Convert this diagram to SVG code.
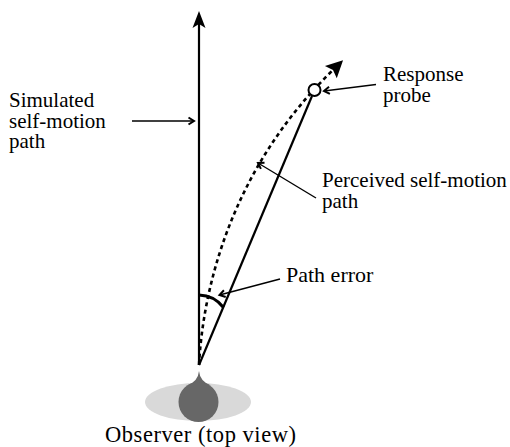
<svg xmlns="http://www.w3.org/2000/svg" width="510" height="447" viewBox="0 0 510 447">
<defs>
<style>
text{font-family:"Liberation Serif","Times New Roman",serif;font-size:21px;fill:#000}
.leader{stroke:#000;stroke-width:1.4;fill:none}
.main{stroke:#000;stroke-width:2.2;fill:none}
.dot{stroke:#000;stroke-width:2.6;fill:none;stroke-dasharray:4 3.4}
</style>
<marker id="chev" markerUnits="userSpaceOnUse" markerWidth="12" markerHeight="12" viewBox="-8 -6 12 12" refX="0" refY="0" orient="auto" overflow="visible">
<path d="M-5.5,-3.5 L0,0 L-5.5,3.5" fill="none" stroke="#000" stroke-width="2"/>
</marker>
<marker id="bigA" markerUnits="userSpaceOnUse" markerWidth="20" markerHeight="16" viewBox="-4 -8 20 16" refX="0" refY="0" orient="auto" overflow="visible">
<path d="M-4,-6.5 L13,0 L-4,6.5 L0,0 Z" fill="#000"/>
</marker>
<marker id="bigB" markerUnits="userSpaceOnUse" markerWidth="22" markerHeight="20" viewBox="-4 -10 22 20" refX="0" refY="0" orient="auto" overflow="visible">
<path d="M-3,-8.5 L14,0 L-3,8.5 L0,0 Z" fill="#000"/>
</marker>
</defs>

<g id="observer">
<ellipse cx="198" cy="402" rx="53" ry="19" fill="#d9d9d9"/>
<path d="M199,371 Q200,381 210,385 L188,385 Q198,381 199,371 Z" fill="#676767"/>
<circle cx="198.5" cy="402" r="20" fill="#676767"/>
</g>

<g id="connectors">
<line id="simulated-path" class="main" x1="199" y1="365" x2="199" y2="24" marker-end="url(#bigA)"/>
<path id="perceived-path" class="dot" d="M199,365 C203,290 230,170 333,70" marker-end="url(#bigB)"/>
<line id="response-line" class="main" x1="199" y1="365" x2="312" y2="96"/>
<path id="path-error-arc" d="M199,295 A32,32 0 0 1 223.5,307.5" fill="none" stroke="#000" stroke-width="3"/>
<line class="leader" x1="132" y1="121" x2="194" y2="121" marker-end="url(#chev)"/>
<line class="leader" x1="376" y1="84.5" x2="324" y2="91" marker-end="url(#chev)"/>
<line class="leader" x1="316" y1="198" x2="258" y2="163" marker-end="url(#chev)"/>
<line class="leader" x1="280" y1="279" x2="219.5" y2="295" marker-end="url(#chev)"/>
</g>

<g id="probe">
<circle cx="314.5" cy="90" r="6" fill="#fff" stroke="#000" stroke-width="2"/>
</g>

<g id="label-simulated">
<text x="9" y="107">Simulated</text>
<text x="9" y="128">self-motion</text>
<text x="9" y="148">path</text>
</g>
<g id="label-response">
<text x="383" y="81">Response</text>
<text x="383" y="102">probe</text>
</g>
<g id="label-perceived">
<text x="322" y="187">Perceived self-motion</text>
<text x="322" y="208">path</text>
</g>
<g id="label-error">
<text x="286" y="282" style="font-size:22px">Path error</text>
</g>
<g id="label-observer">
<text x="105" y="442" style="font-size:22.5px" textLength="191" lengthAdjust="spacing">Observer (top view)</text>
</g>
</svg>
